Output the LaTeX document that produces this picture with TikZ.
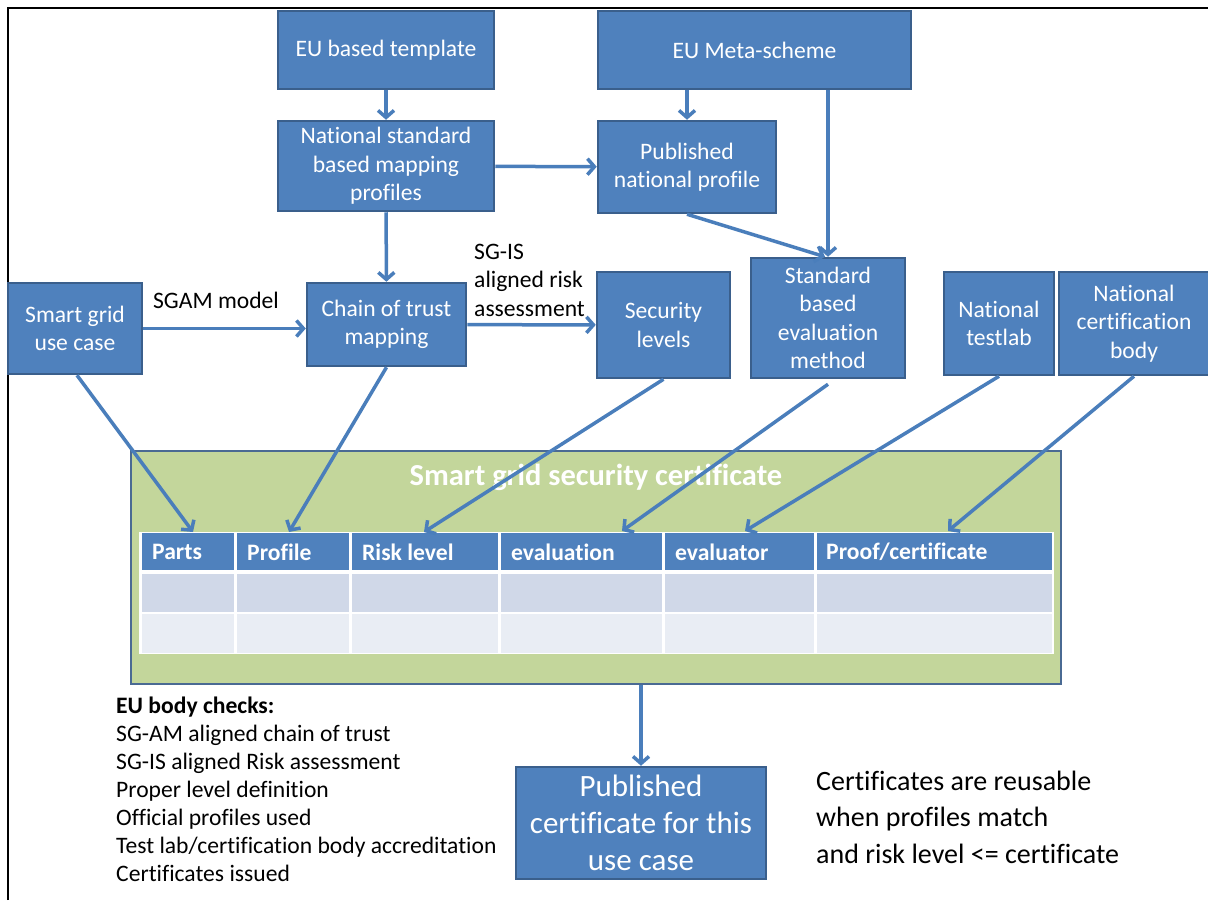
\documentclass[tikz,border=0pt]{standalone}
\usepackage{fontspec}
\setmainfont{Carlito}[Ligatures=NoCommon]
\usetikzlibrary{arrows.meta,calc}
\definecolor{boxblue}{HTML}{4F81BD}
\definecolor{boxborder}{HTML}{3A5F8C}
\definecolor{arrowblue}{HTML}{4A7EBB}
\definecolor{certgreen}{HTML}{C3D69B}
\definecolor{certborder}{HTML}{4A6A93}
\definecolor{rowa}{HTML}{D0D8E8}
\definecolor{rowb}{HTML}{E9EDF4}
\begin{document}
\begin{tikzpicture}[x=1pt,y=-1pt,
  bbox/.style={rectangle, fill=boxblue, draw=boxborder, line width=2.5pt, text=white,
    align=center, inner sep=2pt, font=\fontsize{23.6}{28.5}\selectfont},
  conn/.style={draw=arrowblue, line width=3.5pt, -{Straight Barb[length=7pt,width=16pt]}},
  lbl/.style={text=black, inner sep=0pt, font=\fontsize{23.6}{28.5}\selectfont},
  hdrtxt/.style={text=white, anchor=west, inner sep=0pt, font=\fontsize{23.6}{26}\selectfont\bfseries}]
\useasboundingbox (0,0) rectangle (1208,900);
% frame
\draw[line width=2.5pt, black] (8,900) -- (8,8) -- (1208,8);

% top boxes
\node[bbox, minimum width=216pt, minimum height=78pt] (tmpl) at (386,50) {EU based template};
\node[bbox, minimum width=313pt, minimum height=78pt] (meta) at (754.5,50) {EU Meta-scheme};
\node[bbox, minimum width=216pt, minimum height=90pt] (nsbmp) at (386,166) {National standard\\based mapping\\profiles};
\node[bbox, minimum width=178pt, minimum height=92pt] (pub) at (687,167) {Published\\national profile};

% middle boxes
\node[bbox, minimum width=134pt, minimum height=91pt] (sg) at (75,328.5) {Smart grid\\use case};
\node[bbox, minimum width=159pt, minimum height=83pt] (chain) at (386.5,324.5) {Chain of trust\\mapping};
\node[bbox, minimum width=133pt, minimum height=106pt] (sec) at (663.5,325) {Security\\levels};
\node[bbox, minimum width=154pt, minimum height=120pt] (std) at (828,318) {Standard\\based\\evaluation\\method};
\node[bbox, minimum width=110pt, minimum height=103pt] (tl) at (999,323.5) {National\\testlab};
\node[bbox, minimum width=150pt, minimum height=103pt] (cb) at (1134,323.5) {National\\certification\\body};

% labels
\node[lbl] (sgam) at (216,300) {SGAM model};
\node[lbl, anchor=west, align=left] (sgis) at (474,280) {SG-IS\\aligned risk\\assessment};

% certificate
\node[rectangle, fill=certgreen, draw=certborder, line width=2.5pt,
      minimum width=930pt, minimum height=233pt] (green) at (596,567.5) {};
\node[text=white, inner sep=0pt, font=\fontsize{30.5}{34}\selectfont\bfseries] (title) at (596,477) {Smart grid security certificate};

\fill[white] (139,532) rectangle (1054,654);
\foreach \a/\b in {140/235,235/350,350/499,499/663,663/815,815/1053} {
  \fill[boxblue] (\a+1.5,533) rectangle (\b-1.5,570);
  \fill[rowa] (\a+1.5,574) rectangle (\b-1.5,611.5);
  \fill[rowb] (\a+1.5,614) rectangle (\b-1.5,652.5);
}
\node[hdrtxt] (hParts) at (152,552) {Parts};
\node[hdrtxt] (hProfile) at (247,552) {Profile};
\node[hdrtxt] (hRisk) at (362,552) {Risk level};
\node[hdrtxt] (hEval) at (511,552) {evaluation};
\node[hdrtxt] (hEvalr) at (675,552) {evaluator};
\node[hdrtxt] (hProof) at (826,552) {Proof/certificate};

\coordinate (tParts) at (193,532);
\coordinate (tProfile) at (289,532);
\coordinate (tRisk) at (424,532);
\coordinate (tEval) at (622,531);
\coordinate (tEvalr) at (745,531);
\coordinate (tProof) at (948,531);

% bottom
\node[bbox, minimum width=250pt, minimum height=112pt, font=\fontsize{31}{37}\selectfont] (pc) at (641,823) {Published\\certificate for this\\use case};
\node[lbl, anchor=west, align=left, font=\fontsize{23.6}{28}\selectfont] (checks) at (116,789)
  {\textbf{EU body checks:}\\SG-AM aligned chain of trust\\SG-IS aligned Risk assessment\\Proper level definition\\Official profiles used\\Test lab/certification body accreditation\\Certificates issued};
\node[lbl, anchor=west, align=left, font=\fontsize{28}{36.5}\selectfont] (reuse) at (816,817)
  {Certificates are reusable\\when profiles match\\and risk level <= certificate};

% connectors
\draw[conn] (tmpl) -- (nsbmp);
\draw[conn] (pub.north |- meta.south) -- (pub.north);
\draw[conn] (std.north |- meta.south) -- (std.north);
\draw[conn] (nsbmp) -- (pub);
\draw[conn] (nsbmp) -- (chain);
\draw[conn] (sg.east) -- (sg.east -| chain.west);
\draw[conn] (chain) -- (sec);
\draw[conn] (pub.south) -- ($(std.north)+(-3,0)$);
\draw[conn] ($(sg.south)+(2,0)$) -- (tParts);
\draw[conn] (chain.south) -- (tProfile);
\draw[conn] (sec.south) -- (tRisk);
\draw[conn] ($(std.south)+(0,5)$) -- (tEval);
\draw[conn] (tl.south) -- (tEvalr);
\draw[conn] (cb.south) -- (tProof);
\draw[conn] (pc.north |- green.south) -- (pc.north);
\end{tikzpicture}
\end{document}
